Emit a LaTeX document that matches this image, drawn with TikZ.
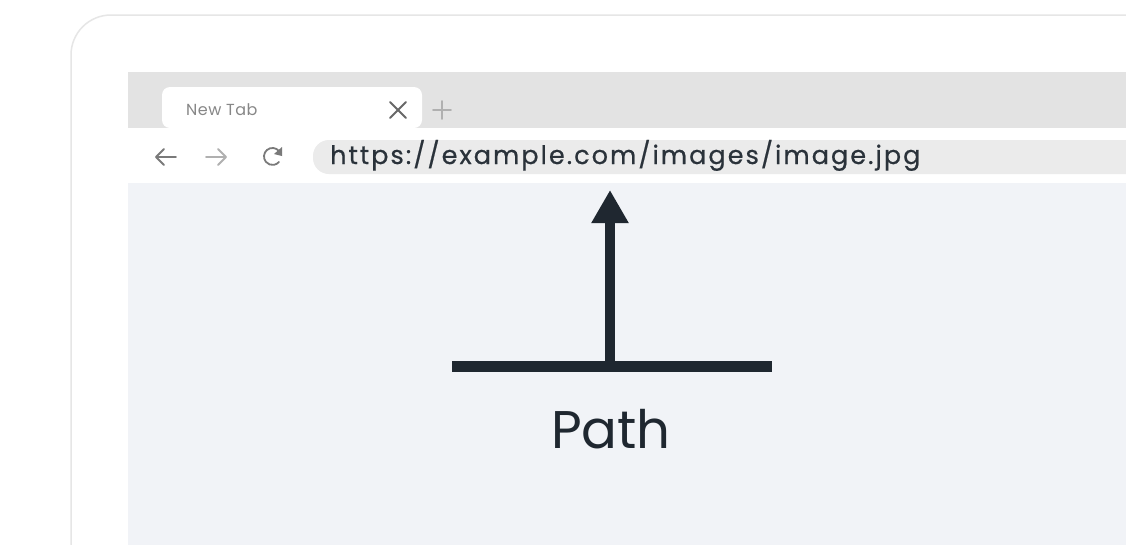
\documentclass[tikz,border=0pt]{standalone}
\usepackage{fontspec}
\setmainfont{Poppins}
\newfontfamily\urlfont[LetterSpace=8,FakeBold=0.6]{Poppins}
\newfontfamily\labfont[LetterSpace=3]{Poppins}
\usetikzlibrary{arrows.meta}
\definecolor{framegray}{HTML}{E6E6E6}
\definecolor{tabbar}{HTML}{E3E3E3}
\definecolor{urlfill}{HTML}{EBEBEB}
\definecolor{content}{HTML}{F1F3F7}
\definecolor{ink}{HTML}{1F2730}
\definecolor{icon}{HTML}{7A7A7A}
\definecolor{iconlight}{HTML}{B0B0B0}
\tikzset{
  label/.style={inner sep=0pt, anchor=base west},
  iconline/.style={draw=icon, line width=1.8pt, line cap=round, line join=round},
  bar/.style={draw=ink, line width=11pt},
  pointer/.style={draw=ink, line width=10pt, -{Triangle[width=35pt,length=33pt]}},
}
\begin{document}
\begin{tikzpicture}[x=1pt,y=-1pt]
\useasboundingbox (0,0) rectangle (1126,544);
\clip (0,0) rectangle (1126,544);
\fill[white] (0,0) rectangle (1126,544);
% outer frame
\draw[framegray, line width=1.5pt, rounded corners=40pt] (71,15) rectangle (1250,650);
% tab bar
\fill[tabbar] (128,72) rectangle (1140,128);
% tab
\fill[white, rounded corners=8pt] (162,128) -- (162,87) -- (422,87) -- (422,128) -- cycle;
\node[label, font=\labfont\fontsize{16}{16}\selectfont, text=icon!90] (tab) at (186,115) {New Tab};
% close and new-tab icons
\coordinate (xa) at (390,102); \coordinate (xb) at (406,118);
\coordinate (xc) at (406,102); \coordinate (xd) at (390,118);
\draw[iconline, draw=icon!85!black] (xa) -- (xb) (xc) -- (xd);
\coordinate (pa) at (442,101); \coordinate (pb) at (442,119);
\coordinate (pc) at (433,110); \coordinate (pd) at (451,110);
\draw[iconline, draw=iconlight] (pa) -- (pb) (pc) -- (pd);
% toolbar
\fill[white] (128,128) rectangle (1140,183);
% back / forward / reload
\draw[iconline] (176,157) -- (156,157) (164,149) -- (156,157) -- (164,165);
\draw[iconline, draw=iconlight] (206,157) -- (226,157) (218,149) -- (226,157) -- (218,165);
\draw[iconline] (279,151) arc[start angle=40, end angle=320, radius=8.5pt];
\fill[icon] (282,147) -- (282,156) -- (274,154) -- cycle;
% url field
\fill[urlfill, rounded corners=16pt] (313,140) rectangle (1180,174);
\node[label, font=\urlfont\fontsize{25.5}{25.5}\selectfont, text=ink!95] (url) at (330,164) {https://example.com/images/image.jpg};
% content
\fill[content] (128,183) rectangle (1140,560);
% diagram
\coordinate (bl) at (452,366);
\coordinate (br) at (772,366);
\coordinate (base) at (610,366);
\coordinate (tip) at (610,190);
\draw[bar] (bl) -- (br);
\draw[pointer] (base) -- (tip);
\node[inner sep=0pt, anchor=base, font=\fontsize{53}{53}\selectfont, text=ink] (path) at (611,448) {Path};
\end{tikzpicture}
\end{document}
